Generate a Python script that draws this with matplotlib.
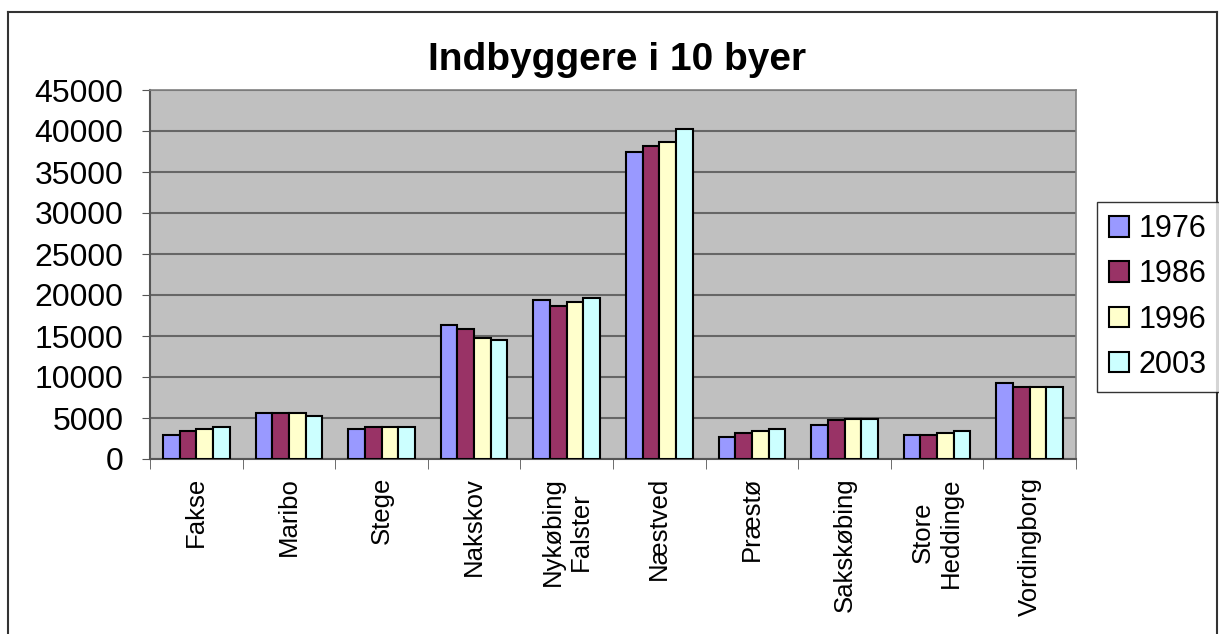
import numpy as np
import matplotlib
matplotlib.use('Agg')
import matplotlib.pyplot as plt
from matplotlib.lines import Line2D

plt.rcParams['font.family'] = ['Liberation Sans', 'DejaVu Sans']

# data
byer = ['Fakse', 'Maribo', 'Stege', 'Nakskov', 'Nykøbing\nFalster', 'Næstved',
        'Præstø', 'Sakskøbing', 'Store\nHeddinge', 'Vordingborg']
aar = ['1976', '1986', '1996', '2003']
v1976 = [2900, 5600, 3600, 16400, 19400, 37500, 2700, 4200, 2900, 9300]
v1986 = [3400, 5600, 3900, 15900, 18600, 38200, 3200, 4700, 2900, 8800]
v1996 = [3600, 5600, 3900, 14700, 19100, 38700, 3400, 4900, 3200, 8800]
v2003 = [3900, 5300, 3900, 14500, 19600, 40200, 3600, 4900, 3400, 8800]
farver = ['#9999FF', '#993366', '#FFFFCC', '#CCFFFF']

fig = plt.figure(figsize=(12.19, 6.34), dpi=100)
ax = fig.add_axes([150 / 1219, 1 - 459 / 634, (1076 - 150) / 1219, (459 - 90) / 634])
ax.set_facecolor('#C0C0C0')

x = np.arange(len(byer))
w = 0.18
for i, (vals, c) in enumerate(zip([v1976, v1986, v1996, v2003], farver)):
    ax.bar(x + (i - 1.5) * w, vals, w, color=c, edgecolor='black',
           linewidth=1.5, label=aar[i], zorder=3)

ax.set_xlim(-0.5, len(byer) - 0.5)
ax.set_ylim(0, 45000)
ax.set_yticks(range(0, 45001, 5000))
ax.yaxis.grid(True, color='#666666', linewidth=1.5, zorder=0)
ax.tick_params(axis='y', labelsize=23, length=6, direction='out', color='#555555', pad=13)

ax.set_xticks(x)
ax.set_xticklabels(byer, rotation=90, fontsize=18.5, va='top', ha='center',
                   multialignment='center', linespacing=1.2)
ax.set_xticks(np.arange(-0.5, len(byer)), minor=True)
ax.tick_params(axis='x', which='major', length=0, pad=13)
ax.tick_params(axis='x', which='minor', length=7, color='#555555')

for s in ['top', 'right']:
    ax.spines[s].set_color('#808080')
    ax.spines[s].set_linewidth(1.2)
for s in ['left', 'bottom']:
    ax.spines[s].set_color('#555555')
    ax.spines[s].set_linewidth(1.5)

fig.text(617 / 1219, 1 - 60 / 634, 'Indbyggere i 10 byer', ha='center', va='center',
         fontsize=28, fontweight='bold')

leg = fig.legend(loc='center left', bbox_to_anchor=(1097 / 1219, 1 - 297 / 634),
                 fontsize=22, frameon=True, fancybox=False, edgecolor='black',
                 handlelength=0.65, handleheight=0.65, handletextpad=0.3,
                 labelspacing=0.5, borderpad=0.4, borderaxespad=0)
leg.get_frame().set_linewidth(1.0)

# outer chart border
for xs, ys in [([8, 8], [12, 634]), ([8, 1217], [12, 12]), ([1217, 1217], [12, 634])]:
    fig.add_artist(Line2D([v / 1219 for v in xs], [1 - v / 634 for v in ys],
                          color='#333333', linewidth=1.5))

plt.savefig('out.png', dpi=100)
